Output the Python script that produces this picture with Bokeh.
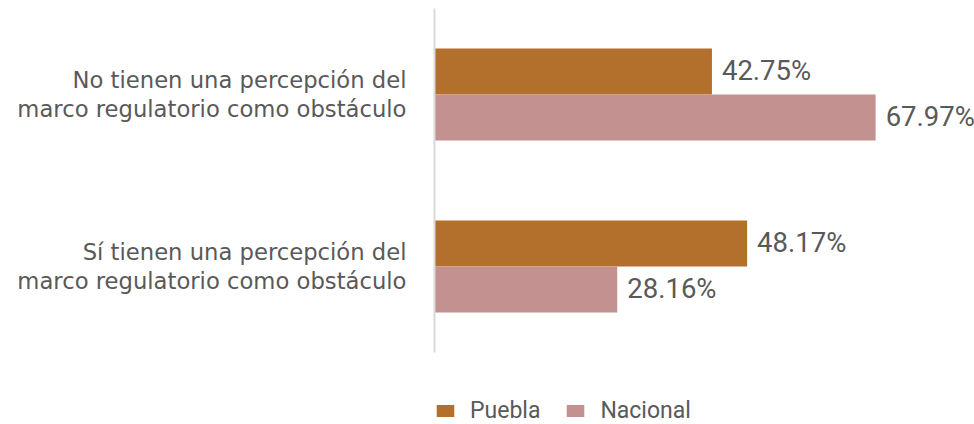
from bokeh.plotting import figure
from bokeh.models import ColumnDataSource, Range1d, Legend, LegendItem, FixedTicker
from bokeh.transform import dodge
from bokeh.core.properties import value
from bokeh.embed import file_html
from bokeh.resources import INLINE

categories = ["No tienen una percepción del\nmarco regulatorio como obstáculo",
              "Sí tienen una percepción del\nmarco regulatorio como obstáculo"]
puebla = [42.75, 48.17]
nacional = [67.97, 28.16]
series_names = ["Puebla", "Nacional"]
colors = ["#B3702D", "#C49191"]

n = len(categories)
ypos = [n - i for i in range(n)]  # top category first

src = ColumnDataSource(dict(
    y=ypos,
    puebla=puebla,
    nacional=nacional,
    puebla_lbl=[f"{v:.2f}%" for v in puebla],
    nacional_lbl=[f"{v:.2f}%" for v in nacional],
))

W, H = 974, 424
left, top = 434, 8
frame_w = W - left
frame_h = H - top
px_per_unit = 6.49          # x pixels per percent
band_px = 172               # pixels per category band
y_top = n + 0.5
y_bottom = y_top - frame_h / band_px

p = figure(width=W, height=H, output_backend="svg", toolbar_location=None,
           y_range=Range1d(y_bottom, y_top),
           x_range=Range1d(0, frame_w / px_per_unit),
           min_border_left=left, min_border_right=0, min_border_top=top,
           min_border_bottom=0)

band = 0.2674
off = 0.1337
r1 = p.hbar(y=dodge("y", off), right="puebla", left=0, height=band,
            source=src, fill_color=colors[0], line_color=None)
r2 = p.hbar(y=dodge("y", -off), right="nacional", left=0, height=band,
            source=src, fill_color=colors[1], line_color=None)

for col, d in (("puebla", off), ("nacional", -off)):
    p.text(x=col, y=dodge("y", d), text=col + "_lbl", source=src,
           x_offset=10, y_offset=-1, text_baseline="middle", text_align="left",
           text_font=value("Roboto"), text_font_size="27.5px", text_color="#595959")

p.xaxis.visible = False
p.xgrid.visible = False
p.ygrid.visible = False
p.outline_line_color = None

ax = p.yaxis[0]
ax.ticker = FixedTicker(ticks=ypos, minor_ticks=[])
ax.major_label_overrides = {yv: c for yv, c in zip(ypos, categories)}
ax.bounds = (0.5, n + 0.5)
ax.axis_line_color = "#D9D9D9"
ax.axis_line_width = 2
ax.major_tick_line_color = None
ax.minor_tick_line_color = None
ax.major_tick_out = 0
ax.major_tick_in = 0
ax.major_label_standoff = 28
ax.major_label_text_font = "DejaVu Sans"
ax.major_label_text_font_size = "22.7px"
ax.major_label_text_color = "#595959"
ax.major_label_text_line_height = 1.14

legend = Legend(items=[LegendItem(label=series_names[0], renderers=[r1]),
                       LegendItem(label=series_names[1], renderers=[r2])],
                orientation="horizontal", location=(0, 0),
                padding=0, margin=0, spacing=24, label_standoff=14,
                glyph_width=22, glyph_height=15,
                label_text_font="Roboto", label_text_font_size="23px",
                label_text_color="#595959",
                border_line_color=None, background_fill_alpha=0)
p.add_layout(legend, "center")

open("out.html", "w").write(file_html(p, INLINE))
